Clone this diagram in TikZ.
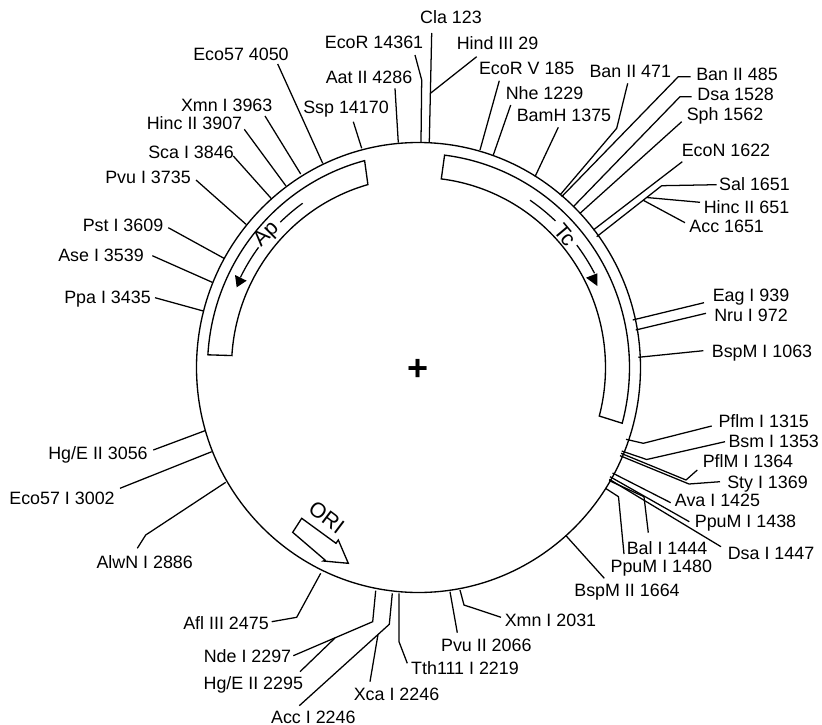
\documentclass[tikz,border=0pt]{standalone}
\usepackage{fontspec}
\setmainfont{Liberation Sans}
\usetikzlibrary{calc}
\tikzset{
  sitelabel/.style={inner sep=0pt,text height=9.7pt,text depth=0pt,font=\fontsize{13.4}{15}\selectfont},
  wire/.style={line width=.95pt,line join=miter},
  ringline/.style={line width=1pt,line join=miter},
  genetext/.style={inner sep=0pt,font=\fontsize{16}{18}\selectfont},
  tipfill/.style={fill=black,draw=none},
}
\newcommand\slabel[4]{\node[sitelabel] (#1) at (#3,#4) {#2};}
\newcommand\siteline[3]{\coordinate (s#1) at (#2); \draw[wire] (s#1) #3;}
\newcommand\ring[2]{([shift={(cen)}]#1:#2)}
\begin{document}
\begin{tikzpicture}[x=.75pt,y=-.75pt]
\useasboundingbox (0,0) rectangle (822,725);
\coordinate (cen) at (418.5,367.5);
\draw[ringline] (cen) circle [x radius=222,y radius=225];
% resistance genes
\draw[ringline] \ring{255.2}{211 and 214} arc[start angle=255.2,end angle=183.4,x radius=211,y radius=214]
  -- \ring{183.6}{187 and 190} arc[start angle=183.6,end angle=254.3,x radius=187,y radius=190] -- cycle;
\draw[ringline] \ring{277.1}{211 and 214} arc[start angle=277.1,end angle=375.1,x radius=211,y radius=214]
  -- \ring{374.8}{187 and 190} arc[start angle=374.8,end angle=277,x radius=187,y radius=190] -- cycle;
\draw[wire] \ring{234.4}{199 and 202} arc[start angle=234.4,end angle=226,x radius=199,y radius=202];
\draw[wire] \ring{216.5}{199 and 202} arc[start angle=216.5,end angle=206.5,x radius=199,y radius=202];
\fill[tipfill] (235,275) -- (246.7,280.7) -- (236.7,287.3) -- cycle;
\draw[wire] \ring{304.1}{199 and 202} arc[start angle=304.1,end angle=313.5,x radius=199,y radius=202];
\draw[wire] \ring{322.7}{199 and 202} arc[start angle=322.7,end angle=332.2,x radius=199,y radius=202];
\fill[tipfill] (586,277.7) -- (597.3,273.3) -- (597.3,286) -- cycle;
\node[genetext,rotate=45] (ap) at (266.7,235) {Ap};
\node[genetext,rotate=-50] (tc) at (565,235) {Tc};
% ORI
\draw[ringline] (301.7,518.3) -- (292.7,532.3) -- (325,560) -- (323.3,561) -- (348.3,563.3) -- (338.3,540) -- (336,543.3) -- cycle;
\node[genetext,rotate=-37] (ori) at (326.7,517.3) {ORI};
\node[inner sep=0pt,font=\bfseries\fontsize{27}{29}\selectfont] (plus) at (418,369.7) {+};
% labels
\slabel{cla}{Cla 123}{451}{17.3}
\slabel{hind}{Hind III 29}{497.5}{43.3}
\slabel{ecor}{EcoR 14361}{374}{42.3}
\slabel{aat}{Aat II 4286}{369}{77.3}
\slabel{ssp}{Ssp 14170}{346}{107}
\slabel{ecoA}{Eco57 4050}{241}{54}
\slabel{xmnA}{Xmn I 3963}{226.7}{105}
\slabel{hincA}{Hinc II 3907}{194.5}{123.3}
\slabel{sca}{Sca I 3846}{191}{152.3}
\slabel{pvuA}{Pvu I 3735}{148}{177.3}
\slabel{pst}{Pst I 3609}{123}{225}
\slabel{ase}{Ase I 3539}{101}{255}
\slabel{ppa}{Ppa I 3435}{107.5}{297.3}
\slabel{hgA}{Hg/E II 3056}{98}{452.7}
\slabel{ecoB}{Eco57 I 3002}{62}{498.3}
\slabel{alwn}{AlwN I 2886}{144.7}{562.3}
\slabel{afl}{Afl III 2475}{226}{623}
\slabel{nde}{Nde I 2297}{247.5}{656}
\slabel{hgB}{Hg/E II 2295}{253.3}{683.3}
\slabel{accB}{Acc I 2246}{313.3}{716.7}
\slabel{xca}{Xca I 2246}{396.5}{694}
\slabel{tth}{Tth111 I 2219}{465}{668.3}
\slabel{pvuB}{Pvu II 2066}{486.3}{645}
\slabel{xmnB}{Xmn I 2031}{550.5}{620}
\slabel{bspB}{BspM II 1664}{627}{590}
\slabel{ppuB}{PpuM I 1480}{661.3}{566}
\slabel{bal}{Bal I 1444}{667}{547.7}
\slabel{dsaB}{Dsa I 1447}{771}{553.3}
\slabel{ppuA}{PpuM I 1438}{745.5}{521}
\slabel{ava}{Ava I 1425}{717.5}{500}
\slabel{sty}{Sty I 1369}{767.5}{481.7}
\slabel{pflM}{PflM I 1364}{748}{460.7}
\slabel{bsm}{Bsm I 1353}{773.7}{440.7}
\slabel{pflm}{Pflm I 1315}{763.7}{420.7}
\slabel{bspI}{BspM I 1063}{762}{350.7}
\slabel{nru}{Nru I 972}{751}{315}
\slabel{eag}{Eag I 939}{751}{295}
\slabel{accA}{Acc 1651}{726.7}{226}
\slabel{hincB}{Hinc II 651}{746.5}{206.7}
\slabel{sal}{Sal 1651}{754.5}{184.3}
\slabel{econ}{EcoN 1622}{726}{150}
\slabel{sph}{Sph 1562}{725}{114}
\slabel{dsaA}{Dsa 1528}{735.7}{94}
\slabel{banB}{Ban II 485}{737}{74.3}
\slabel{banA}{Ban II 471}{630.3}{70.7}
\slabel{bam}{BamH 1375}{564}{115}
\slabel{nhe}{Nhe 1229}{544.5}{93.3}
\slabel{ecoV}{EcoR V 185}{526.7}{67.7}
% connectors
\siteline{cla}{429.3,142}{-- ($(cla)+(-19.3,15.7)$)}
\siteline{hind}{430.8,93}{-- ($(hind)+(-20.8,13.4)$)}
\siteline{ecor}{421,142}{-- (421.7,80) -- ($(ecor)+(41,12.7)$)}
\siteline{aat}{398.3,142.7}{-- ($(aat)+(26,11)$)}
\siteline{ssp}{361.7,148.3}{-- ($(ssp)+(7.3,14.7)$)}
\siteline{ecoA}{322.7,163.3}{-- ($(ecoA)+(36.7,10)$)}
\siteline{xmnA}{300.7,174}{-- ($(xmnA)+(38.3,11)$)}
\siteline{hincA}{286,186}{-- ($(hincA)+(49.8,6)$)}
\siteline{sca}{271.7,199}{-- ($(sca)+(42.3,3.7)$)}
\siteline{pvuA}{246,224.3}{-- ($(pvuA)+(48,2.7)$)}
\siteline{pst}{224,258.3}{-- ($(pst)+(45.3,2.7)$)}
\siteline{ase}{212.3,282.3}{-- ($(ase)+(51.3,.7)$)}
\siteline{ppa}{203.3,311}{-- ($(ppa)+(47.5,.4)$)}
\siteline{hgA}{205,430.7}{-- ($(hgA)+(55.3,-2.7)$)}
\siteline{ecoB}{211.7,451.7}{-- ($(ecoB)+(58,-10)$)}
\siteline{alwn}{225.7,482.3}{-- (145.7,535) -- ($(alwn)+(-7.4,-14)$)}
\siteline{afl}{320.7,573.3}{-- (296.7,617.3) -- ($(afl)+(45.7,-1.3)$)}
\siteline{nde}{375.7,590.7}{-- (372.7,621.7) -- ($(nde)+(45.8,-.3)$)}
\siteline{hgB}{335,638}{-- ($(hgB)+(46.7,-11.6)$)}
\siteline{accB}{392.3,593.3}{-- (389.3,624.3) -- ($(accB)+(-14,-11)$)}
\siteline{xca}{378,634.5}{-- ($(xca)+(-26.5,-12.3)$)}
\siteline{tth}{399,593.3}{-- (399,641.7) -- ($(tth)+(-57.7,-5)$)}
\siteline{pvuB}{450,591.7}{-- ($(pvuB)+(-29,-12.3)$)}
\siteline{xmnB}{460,590}{-- (464,605) -- ($(xmnB)+(-49.5,-2.7)$)}
\siteline{bspB}{566,535.7}{-- ($(bspB)+(-22.7,-11.7)$)}
\siteline{ppuB}{605.5,488.3}{-- (618.5,496.7) -- ($(ppuB)+(-37.3,-12)$)}
\siteline{bal}{609,480.5}{-- (644,496.7) -- ($(bal)+(-18.7,-15)$)}
\siteline{dsaB}{609.3,479.3}{-- ($(dsaB)+(-50,-6.6)$)}
\siteline{ppuA}{610,476.7}{-- ($(ppuA)+(-56.2,.7)$)}
\siteline{ava}{612.5,473}{-- ($(ava)+(-46.8,2.7)$)}
\siteline{sty}{620,455.7}{-- (689,484) -- ($(sty)+(-47.5,0)$)}
\siteline{pflM}{621,453.3}{-- (686,480) -- ($(pflM)+(-50.7,9.3)$)}
\siteline{bsm}{621.7,451}{-- (646.7,459.5) -- ($(bsm)+(-48.7,1)$)}
\siteline{pflm}{626,439.3}{-- (643.3,443.3) -- ($(pflm)+(-52,5.3)$)}
\siteline{bspI}{638.3,357.3}{-- ($(bspI)+(-58.7,0)$)}
\siteline{nru}{635.7,330}{-- ($(nru)+(-45,-1.7)$)}
\siteline{eag}{632.7,320}{-- ($(eag)+(-47,7.7)$)}
\siteline{accA}{643.3,200.3}{-- ($(accA)+(-41.7,-3.3)$)}
\siteline{hincB}{646.7,197.5}{-- ($(hincB)+(-46.5,-4.4)$)}
\siteline{sal}{596.7,236.7}{-- (661.7,185.7) -- ($(sal)+(-37.8,.4)$)}
\siteline{econ}{593.3,230}{-- ($(econ)+(-43.7,11.7)$)}
\siteline{sph}{580,213.3}{-- ($(sph)+(-43.3,7.7)$)}
\siteline{dsaA}{573.3,206.7}{-- (680,96.7) -- ($(dsaA)+(-44,2.7)$)}
\siteline{banB}{561.7,196.7}{-- (678.3,76.7) -- ($(banB)+(-46.3,2.4)$)}
\siteline{banA}{560,195}{-- (616.7,128.3) -- ($(banA)+(-2.6,12.6)$)}
\siteline{bam}{535,176.7}{-- ($(bam)+(-5.7,12.3)$)}
\siteline{nhe}{493.3,155}{-- ($(nhe)+(-33.8,11.7)$)}
\siteline{ecoV}{480,150}{-- ($(ecoV)+(-27.4,13)$)}
\end{tikzpicture}
\end{document}
